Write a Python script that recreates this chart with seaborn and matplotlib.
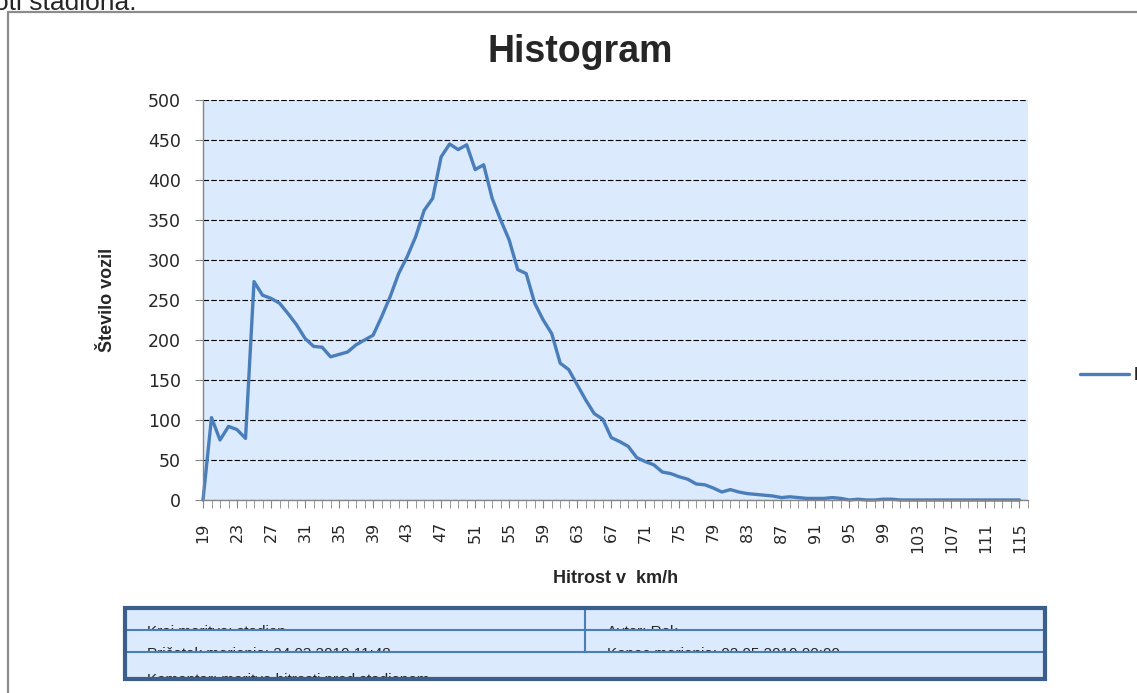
import matplotlib
matplotlib.use("Agg")
import matplotlib.pyplot as plt
from matplotlib.patches import Rectangle
import numpy as np
import pandas as pd
import seaborn as sns

sns.set_style("white")
plt.rcParams['font.family'] = ['DejaVu Sans']

# speed classes (km/h) and number of vehicles per class
speeds = list(range(19, 116))
counts = [0, 103, 75, 92, 88, 77, 273, 256, 252, 246,
          233, 219, 202, 192, 191, 179, 182, 185, 194, 200,
          206, 229, 254, 283, 304, 329, 362, 377, 429, 445,
          438, 444, 413, 419, 377, 350, 325, 288, 283, 246,
          225, 208, 171, 163, 144, 125, 108, 101, 78, 73,
          67, 53, 48, 44, 35, 33, 29, 26, 20, 19,
          15, 10, 13, 10, 8, 7, 6, 5, 3, 4,
          3, 2, 2, 2, 3, 2, 0, 1, 0, 0,
          1, 1, 0, 0, 0, 0, 0, 0, 0, 0,
          0, 0, 0, 0, 0, 0, 0]
series_name = "Hitrost"
tick_labels = [str(s) for s in range(19, 116, 4)]

# table under the chart (mostly hidden in the original)
table_rows = [
	("Kraj meritve: stadion", "Avtor: Rok"),
	("Pričetek merjenja: 24.03.2010 11:48", "Konec merjenja: 02.05.2010 00:00"),
	("Komentar: meritve hitrosti pred stadionom", None),
]

W, H = 1137, 693
BLUE = "#4a7ebb"
FILL = "#dbeafc"
GREY = "#868686"

fig = plt.figure(figsize=(W / 100, H / 100), dpi=100)

# overlay in pixel coordinates for frame + table
ov = fig.add_axes([0, 0, 1, 1], zorder=-1)
ov.set_xlim(0, W)
ov.set_ylim(H, 0)
ov.axis('off')
ov.plot([8, 8], [H, 12], color="#8c8c8c", lw=1.6, clip_on=False)
ov.plot([8, W], [12, 12], color="#8c8c8c", lw=1.6, clip_on=False)

ov.add_patch(Rectangle((125, 608), 920, 71, fc=FILL, ec='none', zorder=1))
row_lines = [630, 652, 678]
for (left, right), y1 in zip(table_rows, row_lines):
	for txt, x0 in ((left, 125), (right, 585)):
		if txt is None:
			continue
		ov.text(x0 + 22, y1 + 6, txt, fontsize=11, family="Liberation Sans",
		        va='baseline', ha='left', zorder=2)
	# the next row hides the lower part of the text
	ov.add_patch(Rectangle((126, y1), 918, 14, fc=FILL, ec='none', zorder=3))
ov.add_patch(Rectangle((121, 679), 928, 20, fc='white', ec='none', zorder=3))
ov.plot([125, 1045], [630, 630], color=BLUE, lw=1.5, zorder=4)
ov.plot([125, 1045], [652, 652], color=BLUE, lw=1.5, zorder=4)
ov.plot([585, 585], [608, 652], color=BLUE, lw=1.5, zorder=4)
ov.add_patch(Rectangle((125, 608), 920, 71, fc='none', ec="#3b5e8c", lw=3, zorder=5))

fig.text(-6 / W, 1 - 10 / H, "oti stadiona.", fontsize=19, family="Liberation Sans",
         va='baseline', ha='left')

# main chart
ax = fig.add_axes([203 / W, 1 - 500 / H, 825 / W, 400 / H])
df = pd.DataFrame({"Hitrost v  km/h": speeds, "Število vozil": counts})
sns.lineplot(data=df, x="Hitrost v  km/h", y="Število vozil", ax=ax, color=BLUE,
             linewidth=2.4, label=series_name, clip_on=False)

ax.set_facecolor(FILL)
ax.set_xlim(19, 116)
ax.set_ylim(0, 500)
ax.set_yticks(range(0, 501, 50))
ax.set_xticks(range(19, 116, 4))
ax.set_xticks(range(19, 117), minor=True)
ax.set_xticklabels(tick_labels, rotation=90)
ax.grid(axis='y', color='black', linestyle=(0, (5, 2)), linewidth=0.8)
ax.grid(axis='x', visible=False)
for s in ['top', 'right']:
	ax.spines[s].set_visible(False)
for s in ['left', 'bottom']:
	ax.spines[s].set_color(GREY)
	ax.spines[s].set_linewidth(1)
ax.tick_params(axis='y', length=6, color=GREY, pad=10, labelsize=12.5, left=True)
ax.tick_params(axis='x', which='both', length=6, color=GREY, pad=10, labelsize=11.5, bottom=True)

ax.set_xlabel("Hitrost v  km/h", fontsize=13, fontweight='bold', family="Liberation Sans")
ax.set_ylabel("Število vozil", fontsize=13, fontweight='bold', family="Liberation Sans")
ax.xaxis.set_label_coords(0.5, -0.175)
ax.yaxis.set_label_coords(-0.105, 0.5)

fig.text(580 / W, 1 - 62 / H, "Histogram", ha='center', va='baseline', fontsize=27,
         fontweight='bold', family="Liberation Sans")

ax.legend(loc='center left', bbox_to_anchor=(1080 / W, 1 - 376 / H), bbox_transform=fig.transFigure,
          frameon=False, handlelength=2.7, handletextpad=0.25, borderpad=0, borderaxespad=0,
          prop={'family': 'Liberation Sans', 'weight': 'bold', 'size': 13})

fig.savefig("out.png", dpi=100)
